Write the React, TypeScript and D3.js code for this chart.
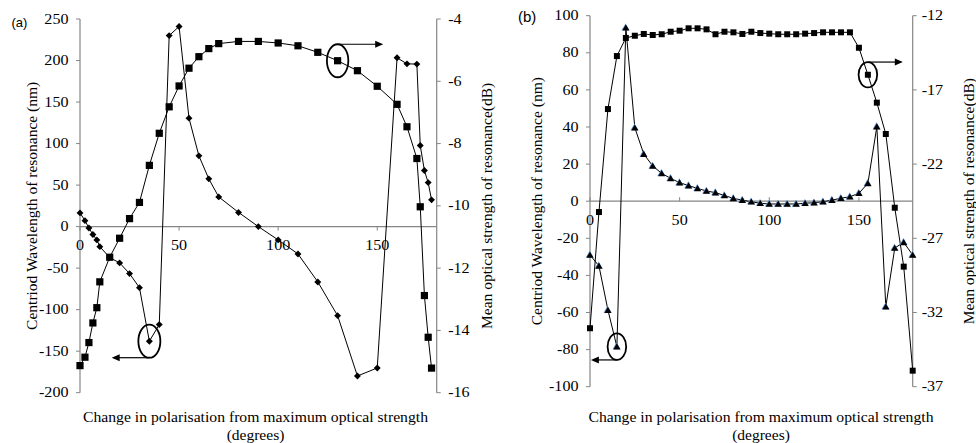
import React from "react";
import * as d3 from "d3";

// ---- Panel (a) data: polarisation change (deg) vs resonance properties ----
const A_DEG = [0, 2.5, 4.5, 6.5, 8.5, 10, 15, 20, 25, 30, 35, 40, 45, 50, 55, 60, 65, 70, 80, 90, 100, 110, 120, 130, 140, 150, 160, 165, 170, 171.7, 173.8, 175.7, 177.4];
const A_WAVELENGTH_NM = [16.5, 7.2, -1.6, -9.6, -16, -24.1, -37.3, -43.7, -56.6, -73.5, -138, -118, 230, 241, 130.6, 85.2, 57.5, 35.8, 17.1, 0, -16, -32.9, -66.6, -107.2, -179.9, -170.2, 203.3, 196, 195.7, 97.6, 67.5, 53, 32.2];
const A_STRENGTH_DB = [-15.13, -14.86, -14.39, -13.76, -13.27, -12.44, -11.65, -11.04, -10.41, -9.89, -8.7, -7.67, -6.82, -6.15, -5.58, -5.21, -4.95, -4.79, -4.72, -4.72, -4.77, -4.86, -5.07, -5.34, -5.66, -6.16, -6.74, -7.46, -8.48, -10.03, -12.88, -14.22, -15.21];

// ---- Panel (b) data ----
const B_DEG = [0, 5, 10, 15, 20, 25, 30, 35, 40, 45, 50, 55, 60, 65, 70, 75, 80, 85, 90, 95, 100, 105, 110, 115, 120, 125, 130, 135, 140, 145, 150, 155, 160, 165, 170, 175, 180];
const B_WAVELENGTH_NM = [-29.0, -34.9, -58.7, -78.4, 93.5, 39.6, 25.4, 19.0, 15.0, 12.3, 10.0, 8.4, 6.9, 5.5, 4.6, 3.1, 1.5, 0.6, -0.3, -1.1, -1.5, -1.5, -1.5, -1.5, -1.1, -0.8, -0.3, 0.6, 1.6, 2.4, 4.3, 9.6, 40.2, -56.9, -25.2, -22.2, -29.0];
const B_STRENGTH_DB = [-33.06, -25.23, -18.29, -14.72, -13.5, -13.35, -13.23, -13.3, -13.25, -13.08, -13.01, -12.85, -12.85, -12.92, -13.25, -13.08, -13.12, -13.23, -13.08, -13.17, -13.21, -13.25, -13.25, -13.25, -13.21, -13.17, -13.12, -13.12, -13.12, -13.12, -14.16, -15.98, -17.86, -19.97, -24.94, -28.91, -35.92];

// ---- Tick values ----
const X_TICKS = [0, 50, 100, 150];
const A_NM_TICKS = [250, 200, 150, 100, 50, 0, -50, -100, -150, -200];
const A_DB_TICKS = [-4, -6, -8, -10, -12, -14, -16];
const B_NM_TICKS = [100, 80, 60, 40, 20, 0, -20, -40, -60, -80, -100];
const B_DB_TICKS = [-12, -17, -22, -27, -32, -37];

const X_TITLE = "Change in polarisation from maximum optical strength";
const X_TITLE_2 = "(degrees)";
const LEFT_TITLE = "Centriod Wavelength of resonance (nm)";
const RIGHT_TITLE = "Mean optical strength of resonance(dB)";

const SERIF = "'Liberation Serif','Times New Roman',serif";
const SANS = "'Liberation Sans',Arial,sans-serif";
const AXIS = "#868686";

type Marker = "square" | "diamond" | "triangle";

interface Note {
  index: number;
  onLeft: boolean; // which series the circled point belongs to (left axis / right axis)
  rx: number;
  ry: number;
  arrowToDeg: number;
  dir: "left" | "right";
}

interface PanelProps {
  label: string;
  labelX: number;
  labelY: number;
  labelSize: number;
  x0: number;
  x1: number;
  y0: number;
  y1: number;
  deg: number[];
  leftVals: number[];
  rightVals: number[];
  leftDomain: [number, number];
  rightDomain: [number, number];
  leftTicks: number[];
  rightTicks: number[];
  leftMarker: Marker;
  rightMarker: Marker;
  leftSize: number;
  rightSize: number;
  notes: Note[];
  leftTitleX: number;
  rightTitleX: number;
  titleCx: number;
  xTickUp: boolean;
  rightLabelGap: number;
}

function markerPath(m: Marker, size: number): string {
  if (m === "triangle") return d3.symbol(d3.symbolTriangle, size)()!;
  return d3.symbol(d3.symbolSquare, size)()!;
}

function Panel(p: PanelProps) {
  const x = d3.scaleLinear().domain([0, 180]).range([p.x0, p.x1]);
  const yL = d3.scaleLinear().domain(p.leftDomain).range([p.y1, p.y0]);
  const yR = d3.scaleLinear().domain(p.rightDomain).range([p.y1, p.y0]);
  const zeroY = yL(0);

  const lineL = d3.line<number>().x((_, i) => x(p.deg[i])).y((v) => yL(v));
  const lineR = d3.line<number>().x((_, i) => x(p.deg[i])).y((v) => yR(v));

  const drawMarkers = (vals: number[], scale: d3.ScaleLinear<number, number>, m: Marker, size: number, key: string) =>
    vals.map((v, i) => {
      const cx = x(p.deg[i]);
      const cy = scale(v);
      if (m === "triangle") {
        const path = markerPath(m, size);
        return (
          <g key={key + i} transform={`translate(${cx},${cy + 0.8})`}>
            <path d={d3.symbol(d3.symbolTriangle, size * 1.25)()!} transform="translate(-0.3,-0.5)" fill="#5b8fd0" />
            <path d={path} fill="#000" />
          </g>
        );
      }
      return (
        <path
          key={key + i}
          d={markerPath(m, size)}
          transform={`translate(${cx},${cy})${m === "diamond" ? " rotate(45)" : ""}`}
          fill="#000"
        />
      );
    });

  const midY = (p.y0 + p.y1) / 2;

  return (
    <g>
      <text x={p.labelX} y={p.labelY} fontFamily={SANS} fontSize={p.labelSize} fill="#000">
        {p.label}
      </text>

      {/* left axis */}
      <line x1={p.x0} x2={p.x0} y1={p.y0} y2={p.y1} stroke={AXIS} strokeWidth={1.2} />
      {p.leftTicks.map((t) => (
        <g key={"lt" + t}>
          <line x1={p.x0 - 4} x2={p.x0} y1={yL(t)} y2={yL(t)} stroke={AXIS} strokeWidth={1} />
          <text
            transform={`translate(${p.x0 - 11.5},${yL(t)}) scale(1.15,1)`}
            textAnchor="end"
            dominantBaseline="central"
            fontFamily={SERIF}
            fontSize={14}
            fill="#000"
          >
            {t}
          </text>
        </g>
      ))}

      {/* right axis */}
      <line x1={p.x1} x2={p.x1} y1={p.y0} y2={p.y1} stroke={AXIS} strokeWidth={1.2} />
      {p.rightTicks.map((t) => (
        <g key={"rt" + t}>
          <line x1={p.x1} x2={p.x1 + 4} y1={yR(t)} y2={yR(t)} stroke={AXIS} strokeWidth={1} />
          <text
            transform={`translate(${p.x1 + p.rightLabelGap},${yR(t)}) scale(1.15,1)`}
            textAnchor="start"
            dominantBaseline="central"
            fontFamily={SERIF}
            fontSize={14}
            fill="#000"
          >
            {t}
          </text>
        </g>
      ))}

      {/* horizontal axis at zero wavelength */}
      <line x1={p.x0} x2={p.x1} y1={zeroY} y2={zeroY} stroke={AXIS} strokeWidth={1.2} />
      {X_TICKS.map((t) => (
        <g key={"xt" + t}>
          <line x1={x(t)} x2={x(t)} y1={zeroY} y2={zeroY + (p.xTickUp ? -4 : 4)} stroke={AXIS} strokeWidth={1} />
          <text
            transform={`translate(${x(t)},${zeroY + 19}) scale(1.15,1)`}
            textAnchor="middle"
            dominantBaseline="central"
            fontFamily={SERIF}
            fontSize={14}
            fill="#000"
          >
            {t}
          </text>
        </g>
      ))}

      {/* series lines */}
      <path d={lineL(p.leftVals)!} fill="none" stroke="#000" strokeWidth={1} />
      <path d={lineR(p.rightVals)!} fill="none" stroke="#000" strokeWidth={1} />
      {drawMarkers(p.rightVals, yR, p.rightMarker, p.rightSize, "r")}
      {drawMarkers(p.leftVals, yL, p.leftMarker, p.leftSize, "l")}

      {/* circled points with arrows toward their axis */}
      {p.notes.map((n, k) => {
        const cx = x(p.deg[n.index]);
        const cy = n.onLeft ? yL(p.leftVals[n.index]) : yR(p.rightVals[n.index]);
        const ay = n.dir === "left" ? cy + n.ry : cy - n.ry;
        const ax = x(n.arrowToDeg);
        const head = n.dir === "left"
          ? `M${ax},${ay} L${ax + 8},${ay - 3.5} L${ax + 8},${ay + 3.5} Z`
          : `M${ax},${ay} L${ax - 8},${ay - 3.5} L${ax - 8},${ay + 3.5} Z`;
        return (
          <g key={"n" + k}>
            <ellipse cx={cx} cy={cy} rx={n.rx} ry={n.ry} fill="none" stroke="#000" strokeWidth={1.8} />
            <line x1={cx} x2={n.dir === "left" ? ax + 7 : ax - 7} y1={ay} y2={ay} stroke="#000" strokeWidth={1.2} />
            <path d={head} fill="#000" />
          </g>
        );
      })}

      {/* axis titles */}
      <text
        transform={`translate(${p.leftTitleX},${midY}) rotate(-90)`}
        textAnchor="middle"
        dominantBaseline="central"
        fontFamily={SERIF}
        fontSize={15.5}
        fill="#000"
      >
        {LEFT_TITLE}
      </text>
      <text
        transform={`translate(${p.rightTitleX},${midY}) rotate(-90)`}
        textAnchor="middle"
        dominantBaseline="central"
        fontFamily={SERIF}
        fontSize={15.5}
        fill="#000"
      >
        {RIGHT_TITLE}
      </text>
      <text
        x={p.titleCx}
        y={416.5}
        textAnchor="middle"
        dominantBaseline="central"
        fontFamily={SERIF}
        fontSize={15.5}
        textLength={345}
        lengthAdjust="spacingAndGlyphs"
        fill="#000"
      >
        {X_TITLE}
      </text>
      <text
        x={p.titleCx}
        y={434.5}
        textAnchor="middle"
        dominantBaseline="central"
        fontFamily={SERIF}
        fontSize={15.5}
        fill="#000"
      >
        {X_TITLE_2}
      </text>
    </g>
  );
}

export default function App() {
  return (
    <svg
      width={976}
      height={443}
      viewBox="0 0 976 443"
      style={{ position: "absolute", left: 0, top: 0, background: "#fff" }}
    >
      <rect width={976} height={443} fill="#fff" />
      <Panel
        label="(a)"
        labelX={11.5}
        labelY={27}
        labelSize={13}
        x0={80}
        x1={436.7}
        y0={19}
        y1={392.7}
        deg={A_DEG}
        leftVals={A_WAVELENGTH_NM}
        rightVals={A_STRENGTH_DB}
        leftDomain={[-200, 250]}
        rightDomain={[-16, -4]}
        leftTicks={A_NM_TICKS}
        rightTicks={A_DB_TICKS}
        leftMarker="diamond"
        rightMarker="square"
        leftSize={24}
        rightSize={52}
        notes={[
          { index: 10, onLeft: true, rx: 11, ry: 16.5, arrowToDeg: 16, dir: "left" },
          { index: 23, onLeft: false, rx: 10.7, ry: 16.5, arrowToDeg: 153, dir: "right" },
        ]}
        leftTitleX={31}
        rightTitleX={486}
        titleCx={255.5}
        xTickUp={false}
        rightLabelGap={11.5}
      />
      <Panel
        label="(b)"
        labelX={518}
        labelY={22}
        labelSize={15}
        x0={590}
        x1={912.7}
        y0={15.7}
        y1={386.7}
        deg={B_DEG}
        leftVals={B_WAVELENGTH_NM}
        rightVals={B_STRENGTH_DB}
        leftDomain={[-100, 100]}
        rightDomain={[-37, -12]}
        leftTicks={B_NM_TICKS}
        rightTicks={B_DB_TICKS}
        leftMarker="triangle"
        rightMarker="square"
        leftSize={22}
        rightSize={36}
        notes={[
          { index: 3, onLeft: true, rx: 9.3, ry: 13.3, arrowToDeg: 0.5, dir: "left" },
          { index: 31, onLeft: false, rx: 9.3, ry: 12.7, arrowToDeg: 174.5, dir: "right" },
        ]}
        leftTitleX={536.5}
        rightTitleX={968}
        titleCx={761}
        xTickUp={true}
        rightLabelGap={9}
      />
    </svg>
  );
}
